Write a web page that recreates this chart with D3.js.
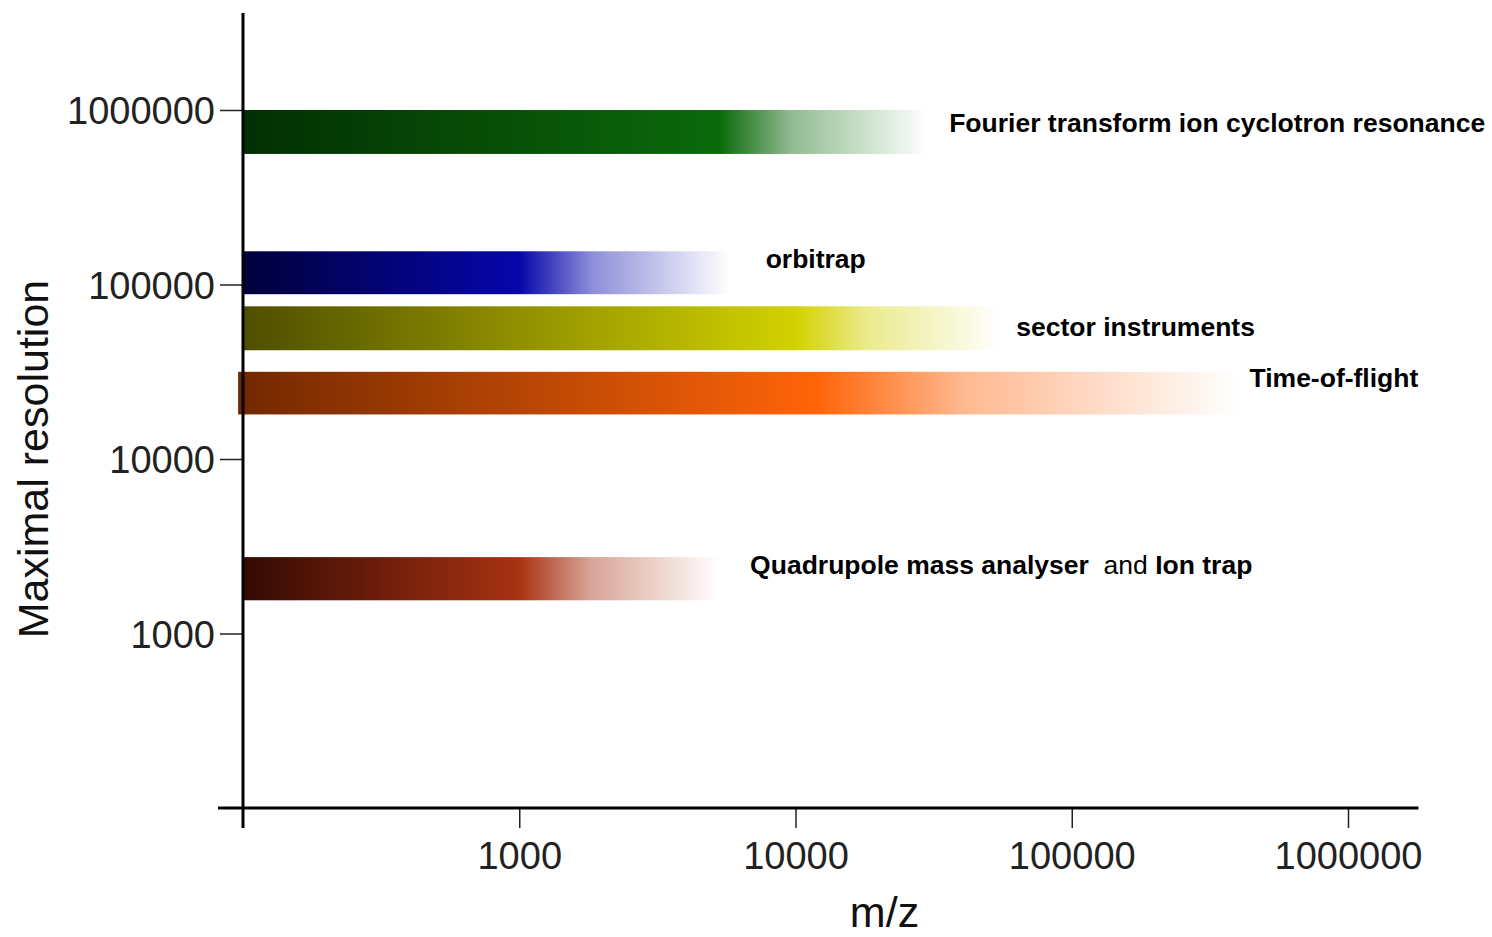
<!DOCTYPE html>
<html>
<head>
<meta charset="utf-8">
<script src="https://d3js.org/d3.v7.min.js"></script>
<style>
  body { margin: 0; background: #fff; }
  .tick-label { font-family: "Liberation Sans", Arial, sans-serif; font-size: 38px; fill: #222; }
  .axis-title { font-family: "Liberation Sans", Arial, sans-serif; font-size: 43px; fill: #111; }
  .bar-label { font-family: "Liberation Sans", Arial, sans-serif; font-size: 26.5px; font-weight: bold; fill: #000; }
</style>
</head>
<body>
<svg id="chart" width="1492" height="937"></svg>
<script>
// instruments and their ranges (m/z on x, maximal resolution on y)
var instruments = ["Fourier transform ion cyclotron resonance", "orbitrap", "sector instruments", "Time-of-flight", "Quadrupole mass analyser"];
var resLow  = [560000, 88000, 42000, 18000, 1550];
var resHigh = [1000000, 155000, 75000, 31600, 2740];
var mzStart = [100, 100, 100, 96, 100];
var mzSolid = [5300, 1000, 10000, 12000, 1000];
var mzEnd   = [30000, 5800, 55000, 400000, 5300];
// label anchors in data units
var labelMz  = [36000, 7800, 63000, 440000, 6850];
var labelRes = [750000, 124000, 51000, 25800, 2190];

var xTicks = [1000, 10000, 100000, 1000000];
var yTicks = [1000, 10000, 100000, 1000000];

var darkColors   = ["#032f03", "#00003c", "#4e4e00", "#722800", "#340a02"];
var brightColors = ["#0b6a0b", "#0606ac", "#d2d200", "#ff6408", "#a83212"];

var svg = d3.select("#chart");
var x = d3.scaleLog().domain([100, 1e6]).range([243, 1348]);
var y = d3.scaleLog().domain([100, 1e6]).range([808, 110]);
var xMax = 1.8e6, yMax = 3.6e6;

var defs = svg.append("defs");
instruments.forEach(function(name, i) {
  var x0 = x(mzStart[i]), x1 = x(mzEnd[i]);
  var g = defs.append("linearGradient")
    .attr("id", "grad" + i)
    .attr("gradientUnits", "userSpaceOnUse")
    .attr("x1", x0).attr("x2", x1).attr("y1", 0).attr("y2", 0);
  var solid = (x(mzSolid[i]) - x0) / (x1 - x0);
  g.append("stop").attr("offset", 0).attr("stop-color", darkColors[i]);
  g.append("stop").attr("offset", solid).attr("stop-color", brightColors[i]);
  g.append("stop").attr("offset", solid + (1 - solid) * 0.35).attr("stop-color", d3.interpolateRgb(brightColors[i], "#ffffff")(0.55));
  g.append("stop").attr("offset", 1).attr("stop-color", "#ffffff");
});

// bars
svg.selectAll("rect.bar")
  .data(instruments)
  .enter().append("rect")
  .attr("class", "bar")
  .attr("x", function(d, i) { return x(mzStart[i]); })
  .attr("width", function(d, i) { return x(mzEnd[i]) - x(mzStart[i]); })
  .attr("y", function(d, i) { return y(resHigh[i]); })
  .attr("height", function(d, i) { return y(resLow[i]) - y(resHigh[i]); })
  .attr("fill", function(d, i) { return "url(#grad" + i + ")"; });

// axes
var xAxis = svg.append("g")
  .attr("transform", "translate(0," + y(100) + ")")
  .call(d3.axisBottom(x).tickValues(xTicks).tickSize(20).tickPadding(5).tickFormat(d3.format("d")));
var yAxis = svg.append("g")
  .attr("transform", "translate(" + x(100) + ",0)")
  .call(d3.axisLeft(y).tickValues(yTicks).tickSize(23).tickPadding(5).tickFormat(d3.format("d")));
[xAxis, yAxis].forEach(function(a) {
  a.select(".domain").remove();
  a.selectAll(".tick line").attr("stroke", "#222").attr("stroke-width", 1.5);
  a.selectAll(".tick text").attr("class", "tick-label").attr("fill", null);
  a.attr("font-size", null).attr("font-family", null);
});
xAxis.selectAll(".tick text").attr("dy", "0.95em");
yAxis.selectAll(".tick text").attr("dy", "0.36em");

svg.append("line")
  .attr("x1", x(100) - 25).attr("x2", x(xMax))
  .attr("y1", y(100)).attr("y2", y(100))
  .attr("stroke", "#000").attr("stroke-width", 3);
svg.append("line")
  .attr("x1", x(100)).attr("x2", x(100))
  .attr("y1", y(yMax)).attr("y2", y(100) + 20)
  .attr("stroke", "#000").attr("stroke-width", 3);

// labels
svg.selectAll("text.bar-label")
  .data(instruments)
  .enter().append("text")
  .attr("class", "bar-label")
  .attr("x", function(d, i) { return x(labelMz[i]); })
  .attr("y", function(d, i) { return y(labelRes[i]); })
  .each(function(d) {
    var t = d3.select(this);
    t.append("tspan").text(d);
    if (d === "Quadrupole mass analyser") {
      t.append("tspan").attr("font-weight", "normal").text("\u00a0 and ");
      t.append("tspan").text("Ion trap");
    }
  });

// axis titles
svg.append("text")
  .attr("class", "axis-title")
  .attr("text-anchor", "middle")
  .attr("transform", "translate(48," + y(10000) + ") rotate(-90)")
  .text("Maximal resolution");
svg.append("text")
  .attr("class", "axis-title")
  .attr("text-anchor", "middle")
  .attr("x", x(21000)).attr("y", 927)
  .text("m/z");
</script>
</body>
</html>
